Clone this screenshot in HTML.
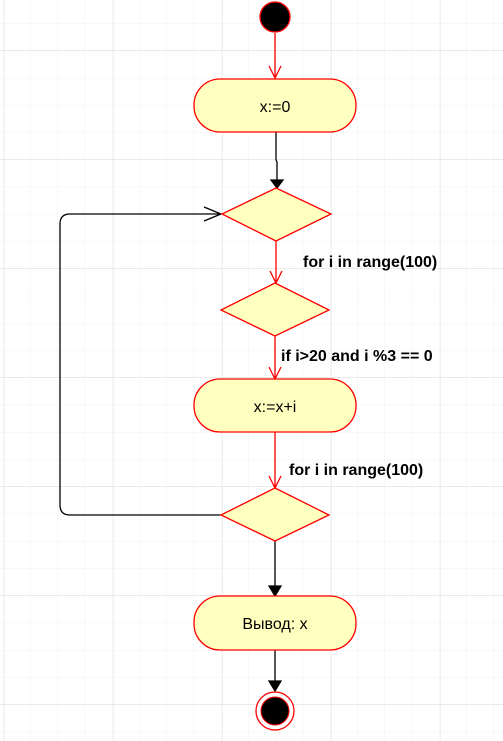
<!DOCTYPE html>
<html><head><meta charset="utf-8"><style>
html,body{margin:0;padding:0;background:#fff;}
svg{display:block;font-family:"Liberation Sans","Noto Sans CJK SC",sans-serif;}
</style></head><body>
<svg width="503" height="741" viewBox="0 0 503 741">
<defs>
<pattern id="minor" width="27.25" height="27.25" patternUnits="userSpaceOnUse" x="3" y="-4">
<path d="M0 0H27.25M0 0V27.25" stroke="#f0f0f0" stroke-width="1" fill="none"/>
</pattern>
<pattern id="major" width="109" height="109" patternUnits="userSpaceOnUse" x="4" y="50">
<path d="M0 0H109M0 0V109" stroke="#e2e2e2" stroke-width="1" fill="none"/>
</pattern>
</defs>
<rect width="503" height="741" fill="url(#minor)"/>
<rect width="503" height="741" fill="url(#major)"/>

<g stroke-width="1.3" fill="none">
<path d="M275 33V78M269 66L275 78L281 66" stroke="#ff0000"/>
<path d="M276 241V283M270 271L276 283L282 271" stroke="#ff0000"/>
<path d="M275 336V379M269 367L275 379L281 367" stroke="#ff0000"/>
<path d="M275 432V488M269 476L275 488L281 476" stroke="#ff0000"/>
<path d="M276 132V160L277 162V182" stroke="#000"/>
<path d="M271 180L277 188L283 180Z" fill="#000" stroke="#000"/>
<path d="M221 515H70Q60 515 60 505V224Q60 214 70 214H221M204 207L221 214L204 221" stroke="#000"/>
<path d="M275 541V588" stroke="#000"/>
<path d="M269 586L275 596L281 586Z" fill="#000" stroke="#000"/>
<path d="M275 650V682" stroke="#000"/>
<path d="M269 681L275 691L281 681Z" fill="#000" stroke="#000"/>
</g>

<circle cx="275" cy="17" r="15" fill="#000" stroke="#ff0000" stroke-width="1.3"/>

<rect x="194" y="79" width="162" height="53" rx="26" fill="#ffffc0" stroke="#ff0000" stroke-width="1.3"/>
<text x="275" y="112" font-size="16" text-anchor="middle" fill="#000">x:=0</text>

<path d="M276 188L331 214L276 241L222 214Z" fill="#ffffc0" stroke="#ff0000" stroke-width="1.3"/>
<text x="303" y="267" font-size="16" font-weight="bold" fill="#000">for i in range(100)</text>

<path d="M275 283L329 310L275 336L221 310Z" fill="#ffffc0" stroke="#ff0000" stroke-width="1.3"/>
<text x="281" y="361" font-size="16" font-weight="bold" fill="#000">if i&gt;20 and i %3 == 0</text>

<rect x="194" y="379" width="162" height="53" rx="26" fill="#ffffc0" stroke="#ff0000" stroke-width="1.3"/>
<text x="275" y="412" font-size="16" text-anchor="middle" fill="#000">x:=x+i</text>

<text x="289" y="475" font-size="16" font-weight="bold" fill="#000">for i in range(100)</text>
<path d="M275 488L329 515L275 541L221 515Z" fill="#ffffc0" stroke="#ff0000" stroke-width="1.3"/>

<rect x="194" y="596" width="162" height="54" rx="26" fill="#ffffc0" stroke="#ff0000" stroke-width="1.3"/>
<text x="275" y="629" font-size="16" text-anchor="middle" fill="#000">Вывод: x</text>

<circle cx="275" cy="711" r="19" fill="#fff" stroke="#ff0000" stroke-width="1.3"/>
<circle cx="275" cy="711" r="14" fill="#000" stroke="#ff0000" stroke-width="1"/>
</svg>
</body></html>
